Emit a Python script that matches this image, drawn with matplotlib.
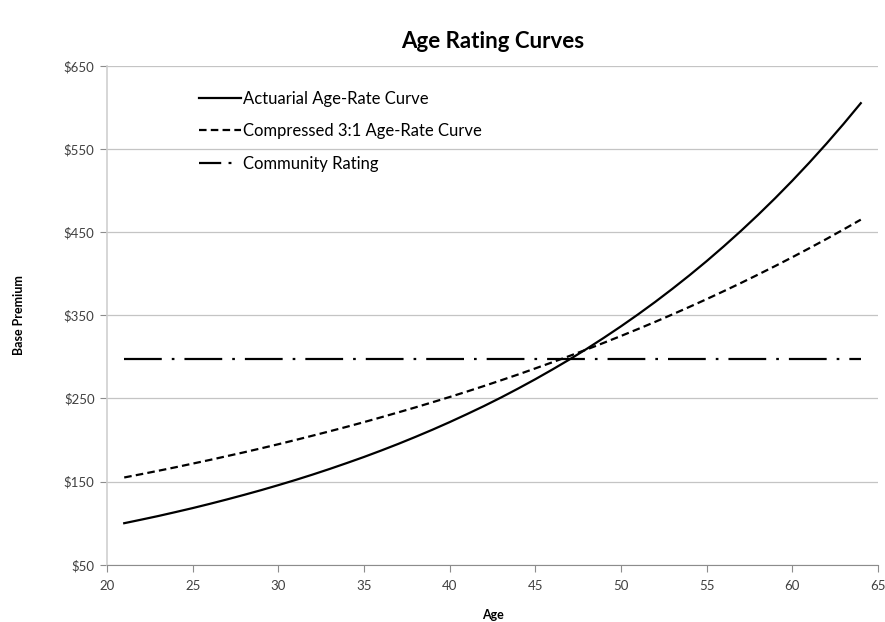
import matplotlib
matplotlib.use("Agg")
import matplotlib.pyplot as plt
from matplotlib.lines import Line2D
from matplotlib.ticker import FuncFormatter

ages = list(range(21, 65))

actuarial = [
    100.0, 104.3, 108.7, 113.4, 118.2, 123.3, 128.6, 134.1, 139.8, 145.8,
    152.0, 158.5, 165.3, 172.4, 179.7, 187.4, 195.4, 203.8, 212.5, 221.6,
    231.1, 240.9, 251.2, 262.0, 273.2, 284.9, 297.0, 309.7, 323.0, 336.8,
    351.2, 366.2, 381.9, 398.2, 415.2, 433.0, 451.5, 470.8, 490.9, 511.9,
    533.8, 556.6, 580.4, 605.2,
]

compressed = [
    155.0, 159.0, 163.1, 167.3, 171.7, 176.1, 180.7, 185.3, 190.1, 195.0,
    200.1, 205.3, 210.6, 216.0, 221.6, 227.4, 233.3, 239.3, 245.5, 251.8,
    258.3, 265.0, 271.9, 278.9, 286.2, 293.6, 301.2, 309.0, 317.0, 325.2,
    333.6, 342.2, 351.1, 360.2, 369.5, 379.1, 388.9, 399.0, 409.3, 419.9,
    430.8, 441.9, 453.4, 465.1,
]

community = [297.0] * len(ages)

labels = ["Actuarial Age-Rate Curve", "Compressed 3:1 Age-Rate Curve",
          "Community Rating"]
x_ticks = [20, 25, 30, 35, 40, 45, 50, 55, 60, 65]
y_ticks = [50, 150, 250, 350, 450, 550, 650]

plt.rcParams["font.family"] = ["Lato", "DejaVu Sans"]

fig = plt.figure(figsize=(8.85, 6.22), dpi=100)
ax = fig.add_axes([0.121, 0.092, 0.871, 0.802])

lw = 1.6
dash = (0, (3.4, 1.9))
dashdot = (0, (17, 4.5, 1.2, 4.5))
ax.plot(ages, actuarial, color="black", lw=lw)
ax.plot(ages, compressed, color="black", lw=lw, ls=dash)
ax.plot(ages, community, color="black", lw=lw, ls=dashdot)

ax.set_xlim(20, 65)
ax.set_ylim(50, 650)
ax.set_xticks(x_ticks)
ax.set_yticks(y_ticks)
ax.yaxis.set_major_formatter(FuncFormatter(lambda v, p: f"${v:.0f}"))
ax.grid(axis="y", color="#c4c4c4", lw=0.9)
ax.set_axisbelow(True)

for s in ["top", "right"]:
    ax.spines[s].set_visible(False)
ax.spines["left"].set_color("#d0d0d0")
ax.spines["left"].set_linewidth(1.2)
ax.spines["bottom"].set_color("#8c8c8c")
ax.tick_params(axis="both", direction="out", length=5, colors="#8c8c8c",
               labelcolor="#404040", labelsize=9.5, pad=6)
ax.tick_params(axis="y", pad=4)

ax.set_title("Age Rating Curves", fontsize=16, fontweight="bold", pad=13)
ax.set_xlabel("Age", fontsize=9, fontweight="bold", labelpad=12)
ax.set_ylabel("Base Premium", fontsize=9, fontweight="bold", labelpad=28)

# legend handle for community rating shows one dash + dot, like the original
handles = [
    Line2D([], [], color="black", lw=lw),
    Line2D([], [], color="black", lw=lw, ls=dash),
    Line2D([], [], color="black", lw=lw, ls=(0, (10, 3.3, 1.3, 20))),
]
ax.legend(handles, labels, loc="upper left", bbox_to_anchor=(0.1, 0.98),
          frameon=False, fontsize=12, handlelength=2.5, handletextpad=0.1,
          labelspacing=0.98)

fig.savefig("out.png", dpi=100)
